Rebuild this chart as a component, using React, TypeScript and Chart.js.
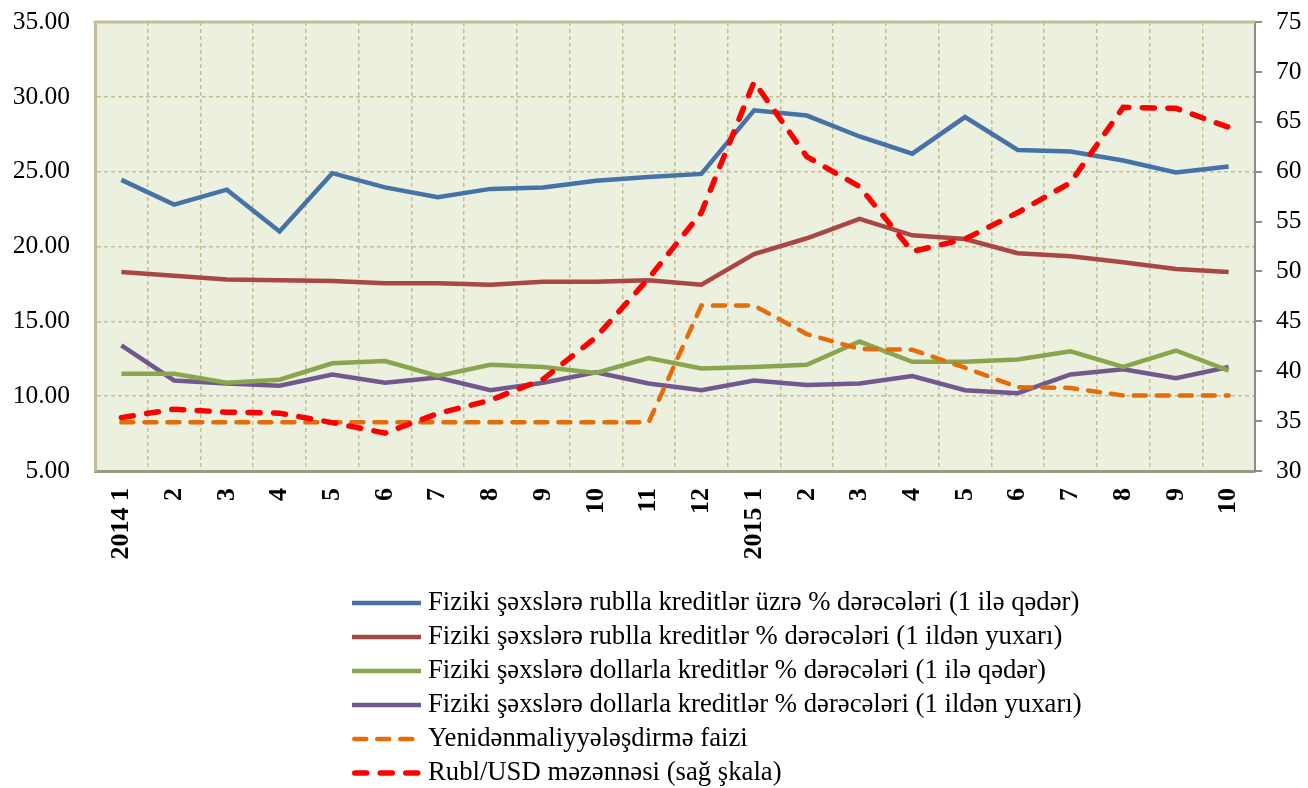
import React, { useEffect, useRef } from 'react';
import { Chart, registerables } from 'chart.js';

Chart.register(...registerables);

const categories = [
  '2014 1', '2', '3', '4', '5', '6', '7', '8', '9', '10', '11', '12',
  '2015 1', '2', '3', '4', '5', '6', '7', '8', '9', '10',
];

const seriesNames = [
  'Fiziki şəxslərə rublla kreditlər üzrə % dərəcələri (1 ilə qədər)',
  'Fiziki şəxslərə rublla kreditlər % dərəcələri (1 ildən yuxarı)',
  'Fiziki şəxslərə dollarla kreditlər % dərəcələri (1 ilə qədər)',
  'Fiziki şəxslərə dollarla kreditlər % dərəcələri (1 ildən yuxarı)',
  'Yenidənmaliyyələşdirmə faizi',
  'Rubl/USD məzənnəsi (sağ şkala)',
];

const rubShort = [24.45, 22.8, 23.8, 21.0, 24.9, 23.95, 23.3, 23.85, 23.95, 24.4, 24.65, 24.85, 29.1, 28.75, 27.35, 26.2, 28.65, 26.45, 26.35, 25.75, 24.95, 25.35];
const rubLong = [18.3, 18.05, 17.8, 17.75, 17.7, 17.55, 17.55, 17.45, 17.65, 17.65, 17.75, 17.45, 19.5, 20.55, 21.85, 20.75, 20.5, 19.55, 19.35, 18.95, 18.5, 18.3];
const usdShort = [11.5, 11.5, 10.9, 11.1, 12.2, 12.35, 11.35, 12.1, 11.95, 11.55, 12.55, 11.85, 11.95, 12.1, 13.65, 12.3, 12.3, 12.45, 13.0, 11.95, 13.05, 11.7];
const usdLong = [13.4, 11.05, 10.85, 10.7, 11.45, 10.9, 11.25, 10.4, 10.9, 11.6, 10.85, 10.4, 11.05, 10.75, 10.85, 11.35, 10.4, 10.2, 11.45, 11.8, 11.2, 11.95];
const refinancingRate = [8.25, 8.25, 8.25, 8.25, 8.25, 8.25, 8.25, 8.25, 8.25, 8.25, 8.25, 16.05, 16.05, 14.15, 13.15, 13.1, 11.9, 10.6, 10.55, 10.05, 10.05, 10.05];
const rubUsd = [35.35, 36.2, 35.9, 35.8, 34.85, 33.8, 35.75, 37.1, 39.2, 43.4, 49.3, 55.9, 69.0, 61.5, 58.5, 52.0, 53.25, 55.9, 58.9, 66.45, 66.35, 64.45];

const leftTicks = { min: 5, max: 35, step: 5 };
const rightTicks = { min: 30, max: 75, step: 5 };

const SERIF = '"Liberation Serif", "Times New Roman", serif';

export default function App() {
  const ref = useRef<HTMLCanvasElement>(null);

  useEffect(() => {
    const canvas = ref.current;
    if (!canvas) return;

    const plotBg = {
      id: 'plotBg',
      beforeDraw(chart: any) {
        const { ctx, chartArea: a } = chart;
        ctx.save();
        ctx.fillStyle = '#EBF1DE';
        ctx.fillRect(a.left, a.top, a.right - a.left, a.bottom - a.top);
        ctx.restore();
      },
      afterDraw(chart: any) {
        const { ctx, chartArea: a } = chart;
        ctx.save();
        ctx.strokeStyle = '#C4BD97';
        ctx.lineWidth = 3;
        ctx.beginPath();
        ctx.moveTo(a.left - 1.5, a.top);
        ctx.lineTo(a.right, a.top);
        ctx.stroke();
        ctx.restore();
      },
    };

    const customLegend = {
      id: 'customLegend',
      afterDraw(chart: any) {
        const { ctx } = chart;
        const x0 = 352;
        const x1 = 421;
        const tx = 428;
        const y0 = 603;
        const dy = 34;
        ctx.save();
        chart.data.datasets.forEach((ds: any, i: number) => {
          const y = y0 + i * dy;
          ctx.beginPath();
          ctx.setLineDash(ds.borderDash || []);
          ctx.lineCap = ds.borderCapStyle || 'butt';
          ctx.lineWidth = ds.borderWidth;
          ctx.strokeStyle = ds.borderColor;
          const inset = ds.borderDash ? ds.borderWidth / 2 : 0;
          ctx.moveTo(x0 + inset, y);
          ctx.lineTo(x1 - inset, y);
          ctx.stroke();
          ctx.setLineDash([]);
          ctx.fillStyle = '#000';
          ctx.font = `26.7px ${SERIF}`;
          ctx.textBaseline = 'middle';
          ctx.textAlign = 'left';
          ctx.fillText(ds.label, tx, y);
        });
        ctx.restore();
      },
    };

    const solid = (label: string, data: number[], color: string) => ({
      label,
      data,
      borderColor: color,
      backgroundColor: color,
      borderWidth: 4.5,
      pointRadius: 0,
      tension: 0,
      yAxisID: 'y',
      borderCapStyle: 'butt',
      borderJoinStyle: 'miter',
      order: 2,
    });

    const noVPad = (s: any) => {
      s.paddingTop = 0;
      s.paddingBottom = 0;
    };

    const chart = new Chart(canvas, {
      type: 'line',
      data: {
        labels: categories,
        datasets: [
          solid(seriesNames[0], rubShort, '#4572A7'),
          solid(seriesNames[1], rubLong, '#AA4643'),
          solid(seriesNames[2], usdShort, '#89A54E'),
          solid(seriesNames[3], usdLong, '#71588F'),
          {
            label: seriesNames[4],
            data: refinancingRate,
            borderColor: '#E46C0A',
            backgroundColor: '#E46C0A',
            borderWidth: 4.5,
            borderDash: [12, 11],
            borderCapStyle: 'round',
            pointRadius: 0,
            tension: 0,
            yAxisID: 'y',
            order: 1,
          } as any,
          {
            label: seriesNames[5],
            data: rubUsd,
            borderColor: '#FF0000',
            backgroundColor: '#FF0000',
            borderWidth: 5.5,
            borderDash: [12, 13.5],
            borderCapStyle: 'round',
            pointRadius: 0,
            tension: 0,
            yAxisID: 'y1',
            order: 0,
          } as any,
        ] as any,
      },
      options: {
        responsive: false,
        animation: false,
        devicePixelRatio: 1,
        layout: { padding: { left: 0, right: 0, top: 22, bottom: 188 } },
        plugins: {
          legend: { display: false },
          tooltip: { enabled: false },
        },
        scales: {
          x: {
            type: 'category',
            offset: true,
            grid: {
              offset: true,
              color: '#C8BE96',
              lineWidth: 1.5,
              drawTicks: false,
            },
            border: { display: true, color: '#9C9884', width: 3, dash: [4, 3] },
            ticks: {
              color: '#000',
              font: { family: SERIF, size: 26, weight: 'bold' },
              minRotation: 90,
              maxRotation: 90,
              autoSkip: false,
              padding: 17,
            },
            afterFit: (s: any) => {
              s.height = 129;
              s.paddingLeft = 0;
              s.paddingRight = 0;
            },
          },
          y: {
            position: 'left',
            min: leftTicks.min,
            max: leftTicks.max,
            ticks: {
              stepSize: leftTicks.step,
              color: '#000',
              font: { family: SERIF, size: 25.5 },
              padding: 25,
              callback: (v: any) => Number(v).toFixed(2),
            },
            grid: {
              color: '#C8BE96',
              lineWidth: 1.5,
              drawTicks: false,
            },
            border: { display: true, color: '#C4BD97', width: 3, dash: [4, 3] },
            afterFit: (s: any) => {
              s.width = 95;
              noVPad(s);
            },
          },
          y1: {
            position: 'right',
            min: rightTicks.min,
            max: rightTicks.max,
            ticks: {
              stepSize: rightTicks.step,
              color: '#000',
              font: { family: SERIF, size: 25.5 },
              padding: 14,
            },
            grid: {
              drawOnChartArea: false,
              drawTicks: true,
              tickLength: 7,
              color: '#8C8C8C',
              lineWidth: 2,
            },
            border: { display: true, color: '#8C8C8C', width: 2 },
            afterFit: (s: any) => {
              s.width = 53;
              noVPad(s);
            },
          },
        },
      } as any,
      plugins: [plotBg, customLegend],
    });

    return () => {
      chart.destroy();
    };
  }, []);

  return (
    <canvas
      ref={ref}
      width={1308}
      height={788}
      style={{ position: 'fixed', left: 0, top: 0, display: 'block', width: 1308, height: 788 }}
    />
  );
}
